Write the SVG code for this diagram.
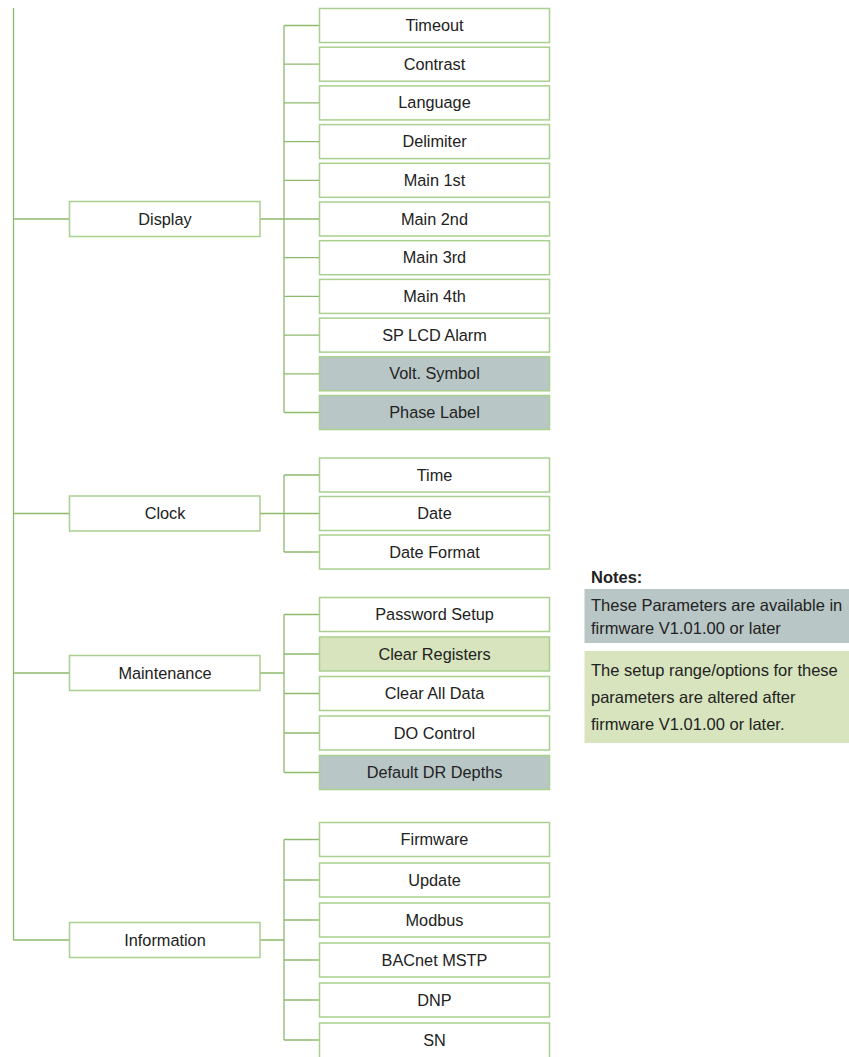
<svg xmlns="http://www.w3.org/2000/svg" width="849" height="1057" viewBox="0 0 849 1057">
<style>
.b{fill:#fff;stroke:#a9d08e;stroke-width:1.5}
.g{fill:#b9c6c6;stroke:#a9d08e;stroke-width:1.5}
.l{fill:#d7e4bd;stroke:#a9d08e;stroke-width:1.5}
.t{font-family:"Liberation Sans",Arial,sans-serif;font-size:16.3px;fill:#222;text-anchor:middle}
.n{font-family:"Liberation Sans",Arial,sans-serif;font-size:16.5px;fill:#222}
.c{stroke:#8dba6e;stroke-width:1.3;fill:none}
</style>
<rect width="849" height="1057" fill="#fff"/>
<g id="connectors" class="c">
<path d="M13.5 8V940M13.5 219H69M13.5 513.5H69M13.5 673H69M13.5 940H69"/>
<path d="M260 219H284M284 25.5V412.5M284 25.5H319M284 64.2H319M284 102.9H319M284 141.6H319M284 180.3H319M284 219H319M284 257.7H319M284 296.4H319M284 335.1H319M284 373.8H319M284 412.5H319"/>
<path d="M260 513.5H284M284 475V552M284 475H319M284 513.5H319M284 552H319"/>
<path d="M260 673H284M284 614.5V772.5M284 614.5H319M284 654H319M284 693.5H319M284 733H319M284 772.5H319"/>
<path d="M260 940H284M284 839.5V1040M284 839.5H319M284 880H319M284 920H319M284 960H319M284 1000H319M284 1040H319"/>
</g>
<g id="display"><rect class="b" x="69.5" y="201.5" width="190.5" height="35"/><text class="t" x="165" y="224.5">Display</text></g>
<g id="clock"><rect class="b" x="69.5" y="496" width="190.5" height="35"/><text class="t" x="165" y="519">Clock</text></g>
<g id="maintenance"><rect class="b" x="69.5" y="655.5" width="190.5" height="35"/><text class="t" x="165" y="678.5">Maintenance</text></g>
<g id="information"><rect class="b" x="69.5" y="922.5" width="190.5" height="35"/><text class="t" x="165" y="945.5">Information</text></g>
<g id="timeout"><rect class="b" x="319.5" y="8.5" width="230" height="34"/><text class="t" x="434.5" y="31">Timeout</text></g>
<g id="contrast"><rect class="b" x="319.5" y="47.2" width="230" height="34"/><text class="t" x="434.5" y="69.7">Contrast</text></g>
<g id="language"><rect class="b" x="319.5" y="85.9" width="230" height="34"/><text class="t" x="434.5" y="108.4">Language</text></g>
<g id="delimiter"><rect class="b" x="319.5" y="124.6" width="230" height="34"/><text class="t" x="434.5" y="147.1">Delimiter</text></g>
<g id="main1"><rect class="b" x="319.5" y="163.3" width="230" height="34"/><text class="t" x="434.5" y="185.8">Main 1st</text></g>
<g id="main2"><rect class="b" x="319.5" y="202" width="230" height="34"/><text class="t" x="434.5" y="224.5">Main 2nd</text></g>
<g id="main3"><rect class="b" x="319.5" y="240.7" width="230" height="34"/><text class="t" x="434.5" y="263.2">Main 3rd</text></g>
<g id="main4"><rect class="b" x="319.5" y="279.4" width="230" height="34"/><text class="t" x="434.5" y="301.9">Main 4th</text></g>
<g id="splcd"><rect class="b" x="319.5" y="318.1" width="230" height="34"/><text class="t" x="434.5" y="340.6">SP LCD Alarm</text></g>
<g id="volt"><rect class="g" x="319.5" y="356.8" width="230" height="34"/><text class="t" x="434.5" y="379.3">Volt. Symbol</text></g>
<g id="phase"><rect class="g" x="319.5" y="395.5" width="230" height="34"/><text class="t" x="434.5" y="418">Phase Label</text></g>
<g id="time"><rect class="b" x="319.5" y="458" width="230" height="34"/><text class="t" x="434.5" y="480.5">Time</text></g>
<g id="date"><rect class="b" x="319.5" y="496.5" width="230" height="34"/><text class="t" x="434.5" y="519">Date</text></g>
<g id="dateformat"><rect class="b" x="319.5" y="535" width="230" height="34"/><text class="t" x="434.5" y="557.5">Date Format</text></g>
<g id="password"><rect class="b" x="319.5" y="597.5" width="230" height="34"/><text class="t" x="434.5" y="620">Password Setup</text></g>
<g id="clearreg"><rect class="l" x="319.5" y="637" width="230" height="34"/><text class="t" x="434.5" y="659.5">Clear Registers</text></g>
<g id="clearall"><rect class="b" x="319.5" y="676.5" width="230" height="34"/><text class="t" x="434.5" y="699">Clear All Data</text></g>
<g id="docontrol"><rect class="b" x="319.5" y="716" width="230" height="34"/><text class="t" x="434.5" y="738.5">DO Control</text></g>
<g id="defaultdr"><rect class="g" x="319.5" y="755.5" width="230" height="34"/><text class="t" x="434.5" y="778">Default DR Depths</text></g>
<g id="firmware"><rect class="b" x="319.5" y="822.5" width="230" height="34"/><text class="t" x="434.5" y="845">Firmware</text></g>
<g id="update"><rect class="b" x="319.5" y="863" width="230" height="34"/><text class="t" x="434.5" y="885.5">Update</text></g>
<g id="modbus"><rect class="b" x="319.5" y="903" width="230" height="34"/><text class="t" x="434.5" y="925.5">Modbus</text></g>
<g id="bacnet"><rect class="b" x="319.5" y="943" width="230" height="34"/><text class="t" x="434.5" y="965.5">BACnet MSTP</text></g>
<g id="dnp"><rect class="b" x="319.5" y="983" width="230" height="34"/><text class="t" x="434.5" y="1005.5">DNP</text></g>
<g id="sn"><rect class="b" x="319.5" y="1023" width="230" height="40"/><text class="t" x="434.5" y="1045.5">SN</text></g>
<g id="notes">
<text class="n" x="591" y="583" font-weight="bold" font-size="15.5px">Notes:</text>
<rect x="584.5" y="589" width="265" height="54" fill="#b9c6c6"/>
<text class="n" x="591" y="611">These Parameters are available in</text>
<text class="n" x="591" y="634">firmware V1.01.00 or later</text>
<rect x="584.5" y="651" width="265" height="92" fill="#d7e4bd"/>
<text class="n" x="591" y="675.5">The setup range/options for these</text>
<text class="n" x="591" y="702.5">parameters are altered after</text>
<text class="n" x="591" y="729.5">firmware V1.01.00 or later.</text>
</g>
</svg>
